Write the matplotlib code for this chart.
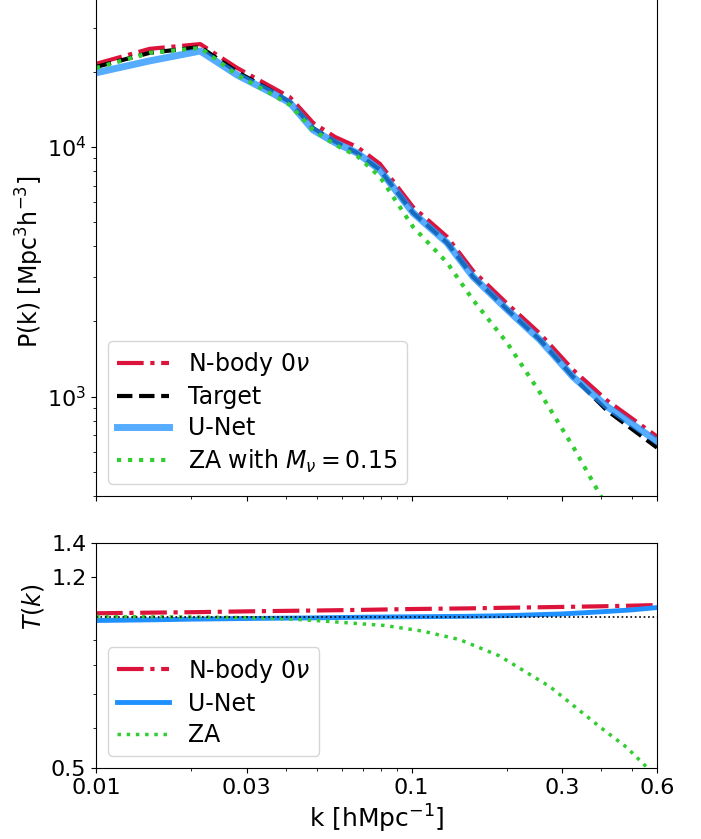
import numpy as np
import matplotlib
matplotlib.use('Agg')
import matplotlib.pyplot as plt
from matplotlib.ticker import NullFormatter, FixedLocator

# power spectrum
k = [0.01, 0.0148, 0.0214, 0.028, 0.0356, 0.0412, 0.0487, 0.0572, 0.0672, 0.0794,
     0.101, 0.1296, 0.1566, 0.201, 0.255, 0.325, 0.417, 0.6]
pk_nbody = [21500, 24700, 25800, 20700, 17500, 15800, 12500, 10960, 10000, 8550,
            5750, 4365, 3190, 2355, 1790, 1280, 964, 692]
pk_target = [20900, 23800, 25100, 19950, 16900, 15100, 11900, 10500, 9460, 8090,
             5450, 4130, 3020, 2230, 1690, 1200, 879, 625]
pk_unet = [19800, 22100, 24200, 19400, 16600, 15000, 11700, 10400, 9460, 8090,
           5450, 4130, 3020, 2230, 1690, 1200, 912, 662]
pk_za = [20700, 23800, 24900, 19400, 16400, 14700, 11700, 10200, 9200, 7590,
         4790, 3440, 2440, 1640, 1040, 631, 360, 154]

# transfer function
kt = [0.01, 0.015, 0.02, 0.03, 0.05, 0.07, 0.1, 0.15, 0.2, 0.3, 0.4, 0.5, 0.6]
t_nbody = [1.015, 1.018, 1.02, 1.024, 1.028, 1.031, 1.035, 1.038, 1.041, 1.045, 1.048, 1.051, 1.054]
t_unet = [0.982, 0.985, 0.988, 0.991, 0.994, 0.997, 0.999, 1.001, 1.004, 1.012, 1.022, 1.031, 1.042]
kza = [0.01, 0.02, 0.03, 0.04, 0.052, 0.065, 0.082, 0.108, 0.142, 0.19, 0.275, 0.4, 0.48, 0.56, 0.6]
t_za = [1.0, 0.998, 0.995, 0.99, 0.98, 0.97, 0.96, 0.936, 0.9, 0.835, 0.725, 0.6, 0.55, 0.5, 0.47]

xticks = [0.01, 0.03, 0.1, 0.3, 0.6]
xticklabels = ['0.01', '0.03', '0.1', '0.3', '0.6']

fig = plt.figure(figsize=(7.01, 8.39), dpi=100)
ax1 = fig.add_axes([0.137, 0.4088, 0.8003, 0.6242])
ax2 = fig.add_axes([0.137, 0.0846, 0.8003, 0.2682])

ax1.plot(k, pk_nbody, '-.', color='crimson', lw=3, label=r'N-body 0$\nu$')
ax1.plot(k, pk_target, '--', color='black', lw=3, label='Target')
ax1.plot(k, pk_unet, '-', color='dodgerblue', alpha=0.75, lw=5, label='U-Net')
ax1.plot(k, pk_za, ':', color='limegreen', lw=3, label=r'ZA with $M_\nu=0.15$')
ax1.set_xscale('log')
ax1.set_yscale('log')
ax1.set_xlim(0.01, 0.6)
ax1.set_ylim(400, 5e4)
ax1.set_xticks(xticks)
ax1.xaxis.set_minor_formatter(NullFormatter())
ax1.tick_params(labelbottom=False)
ax1.tick_params(labelsize=16)
ax1.set_ylabel(r'P(k) [Mpc$^3$h$^{-3}$]', fontsize=17)
ax1.yaxis.set_label_coords(-0.09, 0.447)
ax1.legend(loc='lower left', fontsize=17, handlelength=2.2, labelspacing=0.3)

ax2.plot(kt, t_nbody, '-.', color='crimson', lw=3, label=r'N-body 0$\nu$')
ax2.plot(kt, t_unet, '-', color='dodgerblue', lw=3.5, label='U-Net')
ax2.plot(kza, t_za, ':', color='limegreen', lw=2.5, label='ZA')
ax2.axhline(1.0, color='black', ls=':', lw=1.2)
ax2.set_xscale('log')
ax2.set_yscale('log')
ax2.set_xlim(0.01, 0.6)
ax2.set_ylim(0.5, 1.4)
ax2.set_xticks(xticks)
ax2.set_xticklabels(xticklabels)
ax2.xaxis.set_minor_formatter(NullFormatter())
ax2.yaxis.set_major_locator(FixedLocator([0.5, 1.2, 1.4]))
ax2.set_yticklabels(['0.5', '1.2', '1.4'])
ax2.yaxis.set_minor_formatter(NullFormatter())
ax2.tick_params(labelsize=16)
ax2.set_xlabel(r'k [hMpc$^{-1}$]', fontsize=18)
ax2.set_ylabel(r'$T(k)$', fontsize=17)
ax2.yaxis.set_label_coords(-0.09, 0.716)
ax2.legend(loc='lower left', fontsize=17, handlelength=2.2, labelspacing=0.3)

plt.savefig('out.png', dpi=100)
